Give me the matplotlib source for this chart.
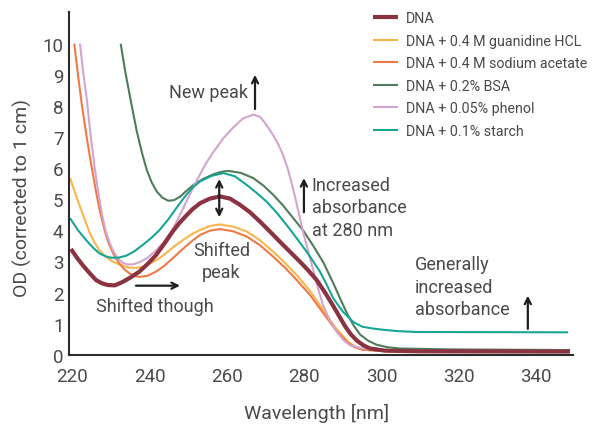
import matplotlib.pyplot as plt

plt.rcParams['font.family'] = ['Roboto', 'DejaVu Sans']

# wavelength (nm) / OD values, one pair of lists per sample
dna_x = [219.66, 221.2, 222.69, 224.5, 226.13, 227.6, 229.15, 231.0, 233.03, 235.0,
         237.33, 239.5, 241.64, 243.8, 245.96, 247.6, 249.22, 251.1, 253.02, 255.61,
         258.19, 260.78, 263.36, 265.95, 268.54, 271.12, 273.71, 276.30, 278.88, 280.95,
         283.20, 285.35, 287.42, 288.97, 290.52, 292.0, 293.62, 295.3, 296.99, 300.87,
         309.92, 348.70]
dna_y = [3.40, 3.12, 2.88, 2.62, 2.40, 2.30, 2.24, 2.23, 2.34, 2.48,
         2.67, 2.92, 3.20, 3.57, 3.96, 4.22, 4.44, 4.68, 4.87, 5.02,
         5.09, 5.02, 4.82, 4.58, 4.28, 3.96, 3.63, 3.31, 2.99, 2.72,
         2.40, 2.00, 1.58, 1.25, 0.92, 0.66, 0.45, 0.30, 0.20, 0.13,
         0.11, 0.10]

guan_x = [219.41, 220.6, 221.81, 223.1, 224.40, 225.7, 226.98, 228.7, 230.45, 232.6,
          234.74, 236.5, 238.21, 240.3, 242.50, 244.7, 246.82, 249.22, 251.1, 253.02,
          255.61, 258.19, 261.56, 265.10, 268.54, 271.98, 275.00, 278.03, 281.47, 284.83,
          288.19, 291.30, 293.0, 294.92, 299.57, 309.92, 348.70]
guan_y = [5.68, 5.25, 4.82, 4.38, 3.96, 3.62, 3.36, 3.15, 2.99, 2.88,
          2.80, 2.79, 2.83, 2.94, 3.10, 3.31, 3.53, 3.74, 3.89, 4.01,
          4.14, 4.19, 4.12, 3.96, 3.68, 3.31, 2.95, 2.56, 2.05, 1.45,
          0.85, 0.42, 0.27, 0.18, 0.12, 0.11, 0.10]

acet_x = [220.52, 221.47, 222.51, 223.72, 224.5, 225.28, 226.13, 227.0, 227.86, 228.7,
          229.57, 230.8, 232.15, 233.4, 234.74, 236.0, 237.33, 239.5, 241.64, 243.8,
          245.96, 247.6, 249.22, 251.1, 253.02, 255.61, 258.19, 261.56, 265.10, 268.54,
          271.98, 275.00, 278.03, 281.47, 284.83, 288.19, 291.30, 293.0, 294.92, 299.57,
          309.92, 348.70]
acet_y = [10.0, 9.0, 8.0, 7.0, 6.4, 5.85, 5.25, 4.7, 4.25, 3.85,
          3.53, 3.2, 2.94, 2.75, 2.62, 2.54, 2.50, 2.54, 2.67, 2.86,
          3.10, 3.29, 3.47, 3.67, 3.85, 3.99, 4.04, 3.97, 3.80, 3.52,
          3.15, 2.80, 2.40, 1.92, 1.35, 0.78, 0.38, 0.24, 0.16, 0.12,
          0.11, 0.10]

bsa_x = [232.52, 233.7, 234.92, 236.65, 238.0, 239.24, 240.5, 241.83, 243.3, 244.83,
         246.3, 247.85, 249.8, 251.73, 254.0, 256.46, 258.5, 260.34, 263.5, 266.81,
         269.5, 271.98, 274.5, 277.15, 279.8, 282.32, 285.0, 287.49, 289.3, 290.96,
         292.7, 294.40, 296.5, 298.72, 301.5, 304.74, 317.67, 348.70]
bsa_y = [10.0, 9.1, 8.3, 7.2, 6.5, 5.95, 5.55, 5.25, 5.05, 4.95,
         4.97, 5.08, 5.3, 5.5, 5.66, 5.8, 5.88, 5.91, 5.85, 5.68,
         5.43, 5.14, 4.8, 4.39, 3.98, 3.5, 2.95, 2.3, 1.8, 1.35,
         0.95, 0.65, 0.45, 0.32, 0.24, 0.2, 0.17, 0.15]

phen_x = [221.99, 222.8, 223.72, 224.7, 225.69, 226.8, 227.86, 228.7, 229.57, 230.6,
          231.74, 233.0, 234.33, 235.9, 237.51, 239.5, 241.64, 243.7, 245.78, 247.6,
          249.40, 251.2, 253.02, 254.7, 256.38, 259.0, 261.55, 264.2, 266.8, 268.5,
          269.4, 270.7, 271.9, 273.2, 274.49, 275.8, 277.07, 278.4, 279.66, 281.0,
          282.25, 283.5, 284.83, 286.6, 288.45, 290.1, 291.82, 295.0, 300.35, 309.92,
          348.70]
phen_y = [10.0, 9.1, 8.25, 7.1, 6.1, 5.15, 4.4, 3.95, 3.63, 3.33,
          3.1, 2.96, 2.9, 2.91, 2.98, 3.12, 3.35, 3.63, 4.0, 4.43,
          4.9, 5.36, 5.8, 6.18, 6.5, 6.95, 7.3, 7.6, 7.72, 7.65,
          7.52, 7.3, 7.07, 6.78, 6.43, 5.95, 5.35, 4.65, 3.96, 3.33,
          2.75, 2.15, 1.6, 1.1, 0.73, 0.47, 0.3, 0.2, 0.15, 0.12,
          0.10]

starch_x = [219.41, 221.5, 223.54, 225.3, 226.98, 228.5, 230.01, 231.9, 233.89, 236.0,
            238.21, 240.4, 242.50, 244.7, 246.82, 249.22, 251.1, 253.02, 256.00, 259.05,
            262.00, 265.10, 267.7, 270.27, 272.9, 275.44, 278.0, 280.62, 284.06, 285.8,
            287.49, 290.00, 292.67, 295.00, 297.84, 300.5, 304.0, 309.06, 348.19]
starch_y = [4.39, 4.0, 3.69, 3.45, 3.26, 3.17, 3.12, 3.12, 3.18, 3.32,
            3.53, 3.75, 4.0, 4.33, 4.7, 5.1, 5.37, 5.57, 5.75, 5.84,
            5.74, 5.46, 5.2, 4.92, 4.56, 4.17, 3.75, 3.31, 2.67, 2.25,
            1.81, 1.38, 1.05, 0.9, 0.84, 0.8, 0.76, 0.73, 0.72]

labels = ['DNA', 'DNA + 0.4 M guanidine HCL', 'DNA + 0.4 M sodium acetate',
          'DNA + 0.2% BSA', 'DNA + 0.05% phenol', 'DNA + 0.1% starch']
colors = ['#8c3341', '#fbb54c', '#ef7a45', '#4f7d5b', '#d3a5ce', '#17a596']

xticks = [220, 240, 260, 280, 300, 320, 340]
yticks = [0, 1, 2, 3, 4, 5, 6, 7, 8, 9, 10]

txt = '#4a4a4a'

fig = plt.figure(figsize=(5.94, 4.27), dpi=100)
ax = fig.add_axes([69 / 594, 1 - 355.7 / 427, 504.3 / 594, 343 / 427])

series = [(guan_x, guan_y), (acet_x, acet_y), (bsa_x, bsa_y),
          (phen_x, phen_y), (starch_x, starch_y)]
handles = {}
for (xs, ys), lab, col in zip(series, labels[1:], colors[1:]):
    handles[lab], = ax.plot(xs, ys, color=col, lw=1.5, solid_capstyle='butt')
handles['DNA'], = ax.plot(dna_x, dna_y, color=colors[0], lw=3.0, solid_capstyle='butt')

ax.set_xlim(219.15, 349.56)
ax.set_ylim(0, 11.03)
ax.set_xticks(xticks)
ax.set_yticks(yticks)
ax.tick_params(length=0, labelsize=13.5, labelcolor=txt)
ax.tick_params(axis='x', pad=8.5)
ax.tick_params(axis='y', pad=4)
for s in ['top', 'right']:
    ax.spines[s].set_visible(False)
for s in ['left', 'bottom']:
    ax.spines[s].set_linewidth(1.5)
    ax.spines[s].set_color('#2b2b2b')

ax.set_xlabel('Wavelength [nm]', fontsize=14, color=txt)
ax.set_ylabel('OD (corrected to 1 cm)', fontsize=14, color=txt)
ax.xaxis.set_label_coords(0.49, -0.14)
ax.yaxis.set_label_coords(-0.074, 0.46)

leg = ax.legend([handles[l] for l in labels], labels, loc='upper left',
                bbox_to_anchor=(373 / 594, 1 - 12 / 427), bbox_transform=fig.transFigure,
                frameon=False, fontsize=10.3, handlelength=1.75, handletextpad=0.58,
                labelspacing=0.6, borderpad=0, borderaxespad=0)
for t in leg.get_texts():
    t.set_color(txt)

# annotations
afs = 13
arrow = dict(arrowstyle='->', lw=1.6, color='#1e1e1e', mutation_scale=11,
             shrinkA=0, shrinkB=0)
ax.text(265.4, 8.45, 'New peak', ha='right', va='center', fontsize=afs, color=txt)
ax.annotate('', xy=(267.25, 9.0), xytext=(267.25, 7.9), arrowprops=arrow)

ax.text(281.9, 4.74, 'Increased\nabsorbance\nat 280 nm', ha='left', va='center',
        fontsize=afs, color=txt, linespacing=1.3)
ax.annotate('', xy=(279.9, 5.68), xytext=(279.9, 4.58), arrowprops=arrow)

ax.text(258.6, 3.01, 'Shifted\npeak', ha='center', va='center', fontsize=afs,
        color=txt, linespacing=1.3)
ax.annotate('', xy=(258.0, 5.65), xytext=(258.0, 4.42),
            arrowprops=dict(arrow, arrowstyle='<->'))

ax.text(241.4, 1.58, 'Shifted though', ha='center', va='center', fontsize=afs, color=txt)
ax.annotate('', xy=(247.85, 2.22), xytext=(236.47, 2.22), arrowprops=arrow)

ax.text(308.6, 2.19, 'Generally\nincreased\nabsorbance', ha='left', va='center',
        fontsize=afs, color=txt, linespacing=1.3)
ax.annotate('', xy=(337.8, 1.9), xytext=(337.8, 0.83), arrowprops=arrow)

fig.savefig('out.png', dpi=100)
